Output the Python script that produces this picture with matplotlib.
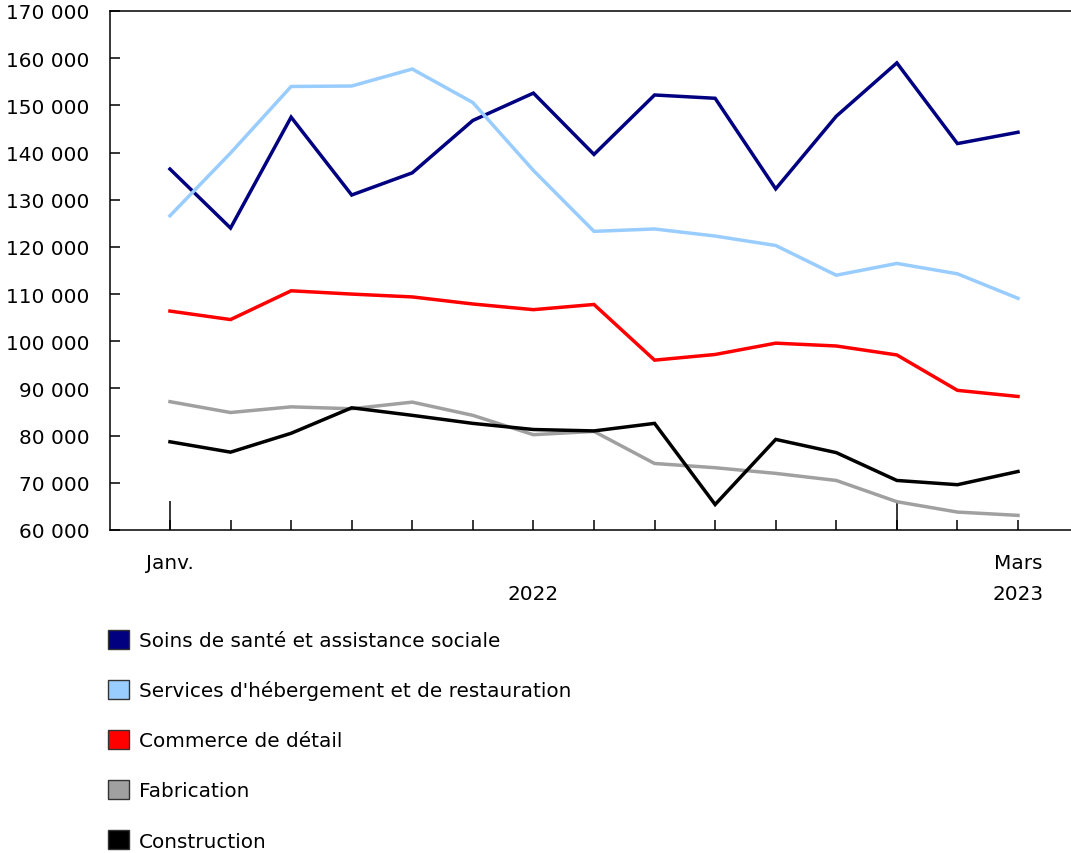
import numpy as np
import matplotlib.pyplot as plt
from matplotlib.patches import Patch
from matplotlib.ticker import FuncFormatter

# Janvier 2022 à mars 2023
mois = ['Janv.', '', '', '', '', '', '', '', '', '', '', '', '', '', 'Mars']
annees = ['2022', '2023']
pos_annees = [6, 14]

sante = [136500, 124000, 147500, 131000, 135700, 146800, 152600, 139600,
         152200, 151500, 132300, 147700, 159000, 141900, 144300]
hebergement = [126600, 139900, 154000, 154100, 157700, 150600, 136200, 123300,
               123800, 122300, 120300, 114000, 116500, 114300, 109100]
commerce = [106400, 104600, 110700, 110000, 109400, 107900, 106700, 107800,
            96000, 97200, 99600, 99000, 97100, 89600, 88300]
fabrication = [87200, 84900, 86100, 85700, 87100, 84300, 80200, 80900,
               74100, 73200, 72000, 70500, 66000, 63800, 63100]
construction = [78700, 76500, 80500, 85900, 84300, 82600, 81300, 81000,
                82600, 65400, 79200, 76400, 70500, 69600, 72400]

noms = ['Soins de santé et assistance sociale',
        "Services d'hébergement et de restauration",
        'Commerce de détail',
        'Fabrication',
        'Construction']
couleurs = ['#000080', '#99CCFF', '#FF0000', '#A0A0A0', '#000000']
series = [sante, hebergement, commerce, fabrication, construction]

plt.rcParams['font.family'] = ['DejaVu Sans']
plt.rcParams['font.size'] = 14.4

fig = plt.figure(figsize=(10.71, 8.54), dpi=100)
ax = fig.add_axes([110 / 1071, 1 - 531 / 854, 1 - 110 / 1071, 519 / 854])

x = np.arange(len(mois))
for vals, c in zip(series, couleurs):
    ax.plot(x, vals, color=c, lw=2.5, solid_joinstyle='miter')

ax.set_xlim(-0.99, 14.875)
ax.set_ylim(60000, 170000)
ax.set_yticks(np.arange(60000, 170001, 10000))
ax.yaxis.set_major_formatter(FuncFormatter(lambda v, p: f'{int(v):,}'.replace(',', ' ')))

# ticks longs au début de chaque année
ax.xaxis.remove_overlapping_locs = False
ax.set_xticks(x)
ax.set_xticklabels(mois)
ax.set_xticks([0, 12], minor=True)
ax.tick_params(axis='x', which='major', direction='in', length=7, width=1.1, pad=16.5)
ax.tick_params(axis='x', which='minor', direction='in', length=21, width=1.1)
ax.tick_params(axis='y', direction='in', length=7, width=1.1, pad=15)

for a, p in zip(annees, pos_annees):
    ax.annotate(a, xy=(p, 0), xycoords=('data', 'axes fraction'),
                xytext=(0, -45.5), textcoords='offset points',
                ha='center', va='center', fontsize=14.4)

ax.spines['right'].set_visible(False)
for s in ['left', 'top', 'bottom']:
    ax.spines[s].set_linewidth(1.1)

handles = [Patch(facecolor=c, edgecolor='#333333', linewidth=1.0) for c in couleurs]
fig.legend(handles, noms, loc='upper left',
           bbox_to_anchor=(108 / 1071, 1 - 631 / 854),
           frameon=False, fontsize=14.4, borderpad=0, borderaxespad=0,
           handlelength=1.05, handleheight=1.05, handletextpad=0.5,
           labelspacing=1.5)

fig.savefig('out.png', dpi=100)
